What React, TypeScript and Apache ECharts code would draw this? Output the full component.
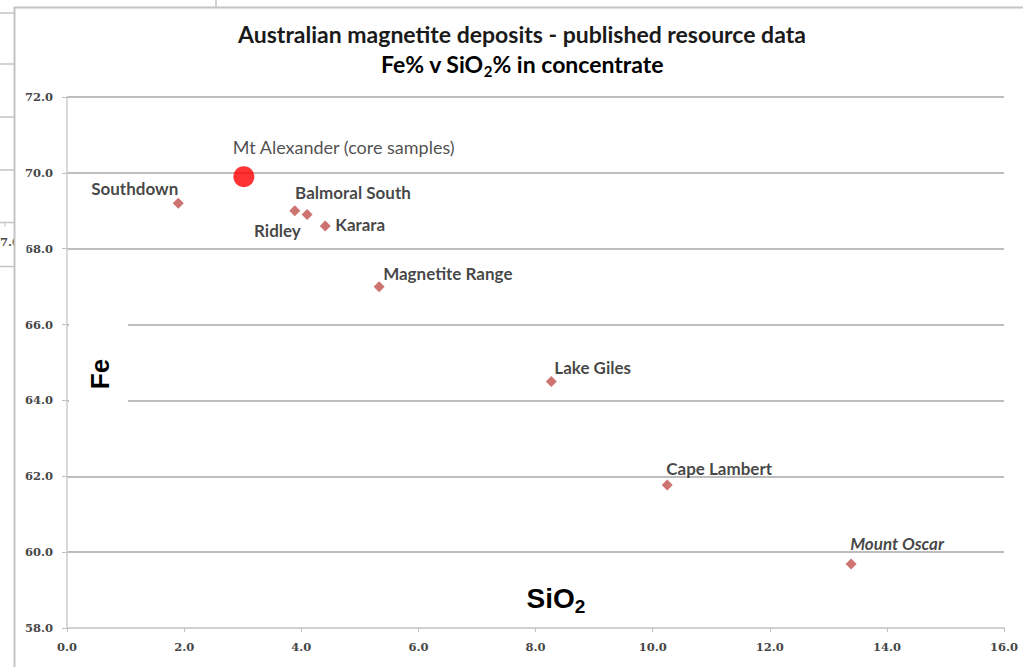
import React, { useEffect, useRef } from "react";
import * as echarts from "echarts";

const deposits = [
  "Southdown",
  "Ridley",
  "Balmoral South",
  "Karara",
  "Magnetite Range",
  "Lake Giles",
  "Cape Lambert",
  "Mount Oscar",
];
const sio2 = [1.9, 3.89, 4.1, 4.41, 5.33, 8.27, 10.25, 13.39];
const fe = [69.2, 69.0, 68.9, 68.6, 67.0, 64.5, 61.77, 59.69];

const highlightName = "Mt Alexander (core samples)";
const highlightSio2 = 3.02;
const highlightFe = 69.9;

const xTicks = { min: 0, max: 16, interval: 2 };
const yTicks = { min: 58, max: 72, interval: 2 };

// label placement per deposit: [dx, dy, align]
const labelPlacement: [number, number, string][] = [
  [5.5, -9.5, "right"],
  [11.5, 25.5, "right"],
  [-6.5, -16.5, "left"],
  [15.5, 4.5, "left"],
  [9.5, -7.5, "left"],
  [8.5, -8.5, "left"],
  [4.5, -11.5, "left"],
  [4.5, -14.5, "left"],
];

export default function App() {
  const ref = useRef<HTMLDivElement>(null);
  useEffect(() => {
    document.body.style.margin = "0";
    const chart = echarts.init(ref.current!, null, { renderer: "svg" });
    const gridColor = "#bdbdbd";
    const labelFont = "Lato, 'Open Sans', sans-serif";
    const data = deposits.map((name, i) => ({
      name,
      value: [sio2[i], fe[i]],
      label: {
        show: true,
        formatter: name,
        position: [labelPlacement[i][0], labelPlacement[i][1]],
        align: labelPlacement[i][2],
        verticalAlign: "middle",
        fontFamily: labelFont,
        fontWeight: "bold",
        fontSize: 17,
        color: "#141414",
        fontStyle: name === "Mount Oscar" ? "italic" : "normal",
      },
    }));
    const leftLines = [13, 64, 117, 170, 222.5, 266.5].map((y) => ({
      type: "line",
      shape: { x1: 0, y1: y, x2: 14, y2: y },
      style: { stroke: "#c4c4c4", lineWidth: 1.5 },
      z: 10,
    }));
    const tickFont = {
      fontFamily: "'DejaVu Serif', 'Liberation Serif', serif",
      fontWeight: "bold",
      fontSize: 11.5,
      color: "#474747",
    };
    chart.setOption({
      animation: false,
      backgroundColor: "#ffffff",
      grid: { left: 67, right: 19, top: 97, bottom: 39, containLabel: false },
      xAxis: {
        type: "value",
        min: xTicks.min,
        max: xTicks.max,
        interval: xTicks.interval,
        axisLine: { show: true, lineStyle: { color: "#d0d0d0", width: 2 } },
        axisTick: { show: true, length: 4, lineStyle: { color: "#c0c0c0" } },
        splitLine: { show: false },
        axisLabel: {
          formatter: (v: number) => v.toFixed(1),
          ...tickFont,
          margin: 13,
        },
      },
      yAxis: {
        type: "value",
        min: yTicks.min,
        max: yTicks.max,
        interval: yTicks.interval,
        axisLine: { show: true, lineStyle: { color: "#cccccc", width: 1.5 } },
        axisTick: { show: true, length: 5, lineStyle: { color: "#c0c0c0" } },
        splitLine: { show: true, lineStyle: { color: gridColor, width: 1.8 } },
        axisLabel: {
          formatter: (v: number) => v.toFixed(1),
          ...tickFont,
          margin: 14,
        },
      },
      series: [
        {
          type: "scatter",
          symbol: "diamond",
          symbolSize: 11,
          itemStyle: { color: "#c0504d" },
          data,
          z: 3,
        },
        {
          type: "scatter",
          symbol: "circle",
          symbolSize: 21,
          itemStyle: { color: "#ff0000" },
          data: [
            {
              name: highlightName,
              value: [highlightSio2, highlightFe],
              label: {
                show: true,
                formatter: highlightName,
                position: [-0.5, -19.5],
                align: "left",
                verticalAlign: "middle",
                fontFamily: labelFont,
                fontSize: 18,
                color: "#1e1e1e",
              },
            },
          ],
          z: 4,
        },
      ],
      graphic: [
        ...leftLines,
        {
          type: "line",
          shape: { x1: 5, y1: 222.5, x2: 5, y2: 227 },
          style: { stroke: "#c4c4c4", lineWidth: 1 },
          z: 10,
        },
        {
          type: "text",
          x: 0,
          y: 242,
          style: {
            text: "7.0",
            font: "bold 11.5px 'DejaVu Serif', serif",
            fill: "#474747",
            verticalAlign: "middle",
            align: "left",
          },
          z: 10,
        },
        {
          type: "rect",
          shape: { x: 14.5, y: 232, width: 12, height: 20 },
          style: { fill: "#ffffff" },
          z: 11,
        },
        {
          type: "line",
          shape: { x1: 14.5, y1: 7, x2: 14.5, y2: 667 },
          style: { stroke: "#c4c4c4", lineWidth: 2 },
          z: 12,
        },
        {
          type: "line",
          shape: { x1: 14, y1: 7.5, x2: 1023, y2: 7.5 },
          style: { stroke: "#c4c4c4", lineWidth: 2 },
          z: 12,
        },
        {
          type: "line",
          shape: { x1: 216, y1: 0, x2: 216, y2: 7 },
          style: { stroke: "#c4c4c4", lineWidth: 1.5 },
          z: 12,
        },
        {
          type: "text",
          x: 522,
          y: 34,
          style: {
            text: "Australian magnetite deposits - published resource data",
            font: "bold 23px Lato, 'Open Sans', sans-serif",
            fill: "#1a1a1a",
            align: "center",
            verticalAlign: "middle",
          },
          z: 10,
        },
        {
          type: "text",
          x: 522,
          y: 64,
          style: {
            text: "{a|Fe% v SiO}{s|2}{a|% in concentrate}",
            align: "center",
            verticalAlign: "middle",
            rich: {
              a: {
                font: "bold 23px Lato, 'Open Sans', sans-serif",
                color: "#1a1a1a",
                verticalAlign: "middle",
              },
              s: {
                font: "bold 15px Lato, 'Open Sans', sans-serif",
                color: "#1a1a1a",
                padding: [13, 0, 0, 0],
              },
            },
          },
          z: 10,
        },
        {
          type: "rect",
          shape: { x: 69, y: 318, width: 59, height: 88 },
          style: { fill: "#ffffff" },
          z: 5,
        },
        {
          type: "text",
          x: 100,
          y: 374,
          rotation: Math.PI / 2,
          style: {
            text: "Fe",
            font: "bold 26px 'Liberation Sans', Arial, sans-serif",
            fill: "#000000",
            align: "center",
            verticalAlign: "middle",
          },
          z: 10,
        },
        {
          type: "text",
          x: 556,
          y: 598,
          style: {
            text: "{a|SiO}{s|2}",
            align: "center",
            verticalAlign: "middle",
            rich: {
              a: {
                font: "bold 28px 'Liberation Sans', Arial, sans-serif",
                color: "#000000",
              },
              s: {
                font: "bold 19px 'Liberation Sans', Arial, sans-serif",
                color: "#000000",
                padding: [16, 0, 0, 0],
              },
            },
          },
          z: 10,
        },
      ],
    });
    return () => chart.dispose();
  }, []);
  return (
    <div
      ref={ref}
      style={{ position: "fixed", left: 0, top: 0, width: 1023, height: 667 }}
    />
  );
}
